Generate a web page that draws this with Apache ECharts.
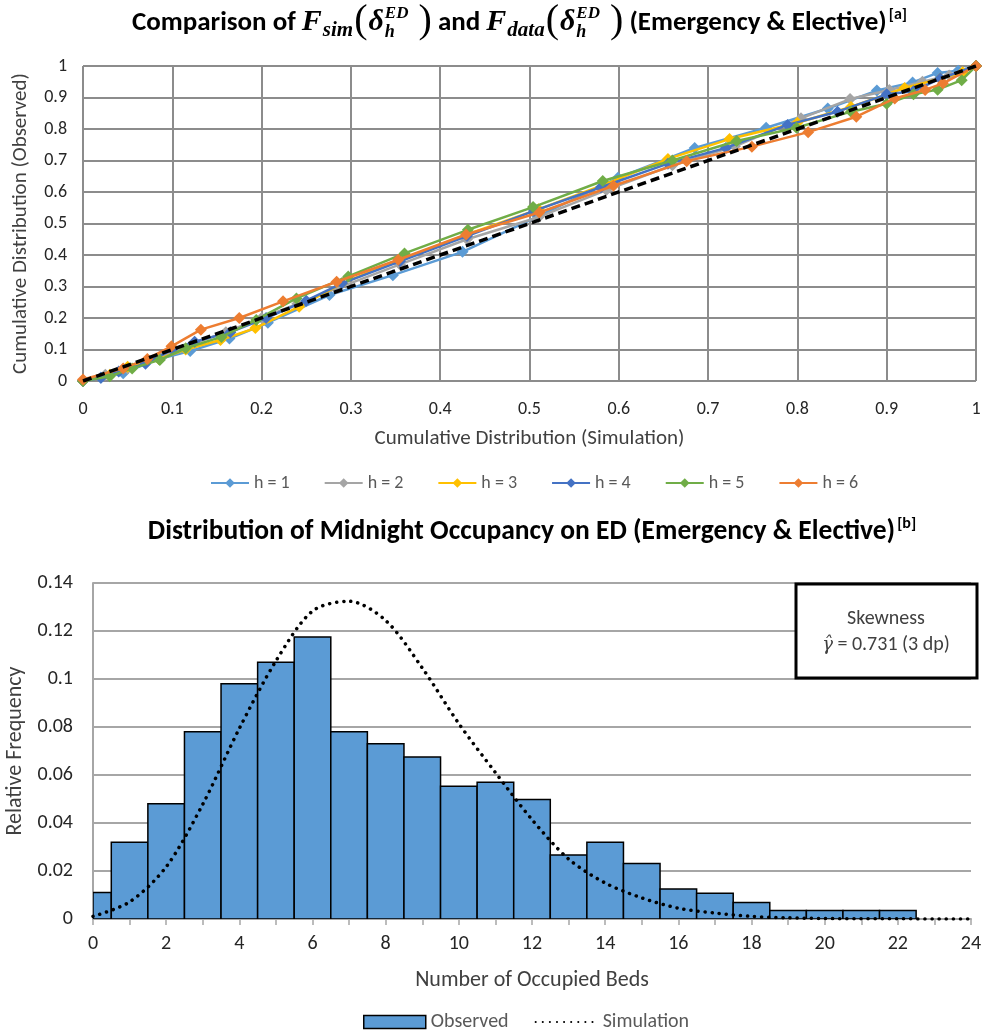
<!DOCTYPE html>
<html>
<head>
<meta charset="utf-8">
<script src="https://cdn.jsdelivr.net/npm/echarts@6/dist/echarts.min.js"></script>
<style>
  html, body { margin: 0; padding: 0; background: #fff; }
  #chart { width: 982px; height: 1030px; }
</style>
</head>
<body>
<div id="chart"></div>
<script>
// ---- Cumulative distribution comparison: [simulated, observed] per hour h ----
const h1 = [[0,0],[0.02,0.01],[0.045,0.025],[0.085,0.07],[0.12,0.095],[0.164,0.135],[0.207,0.185],[0.276,0.273],[0.347,0.336],[0.425,0.41],[0.509,0.522],[0.599,0.645],[0.685,0.74],[0.765,0.804],[0.834,0.865],[0.889,0.922],[0.929,0.948],[0.957,0.978],[0.98,0.985],[1,1]];
const h2 = [[0,0],[0.025,0.02],[0.05,0.04],[0.09,0.08],[0.125,0.12],[0.16,0.155],[0.2,0.2],[0.24,0.245],[0.285,0.295],[0.355,0.37],[0.43,0.45],[0.51,0.52],[0.586,0.606],[0.66,0.685],[0.73,0.745],[0.804,0.834],[0.859,0.895],[0.903,0.924],[0.94,0.95],[0.97,0.97],[1,1]];
const h3 = [[0,0],[0.03,0.02],[0.05,0.045],[0.085,0.07],[0.115,0.1],[0.154,0.13],[0.193,0.168],[0.242,0.236],[0.29,0.31],[0.355,0.385],[0.43,0.465],[0.51,0.545],[0.585,0.625],[0.655,0.705],[0.724,0.768],[0.8,0.82],[0.86,0.87],[0.92,0.93],[0.96,0.96],[0.985,0.98],[1,1]];
const h4 = [[0,0],[0.02,0.01],[0.04,0.03],[0.07,0.055],[0.1,0.1],[0.125,0.125],[0.165,0.155],[0.205,0.2],[0.25,0.255],[0.29,0.31],[0.355,0.38],[0.43,0.46],[0.505,0.54],[0.58,0.615],[0.655,0.69],[0.72,0.74],[0.789,0.813],[0.845,0.855],[0.9,0.91],[0.93,0.92],[0.96,0.96],[1,1]];
const h5 = [[0,0],[0.03,0.015],[0.055,0.04],[0.086,0.067],[0.115,0.104],[0.155,0.14],[0.194,0.194],[0.239,0.262],[0.297,0.332],[0.36,0.405],[0.431,0.48],[0.504,0.552],[0.582,0.635],[0.66,0.7],[0.732,0.762],[0.799,0.804],[0.86,0.855],[0.9,0.88],[0.93,0.91],[0.957,0.925],[0.984,0.955],[1,1]];
const h6 = [[0,0.005],[0.045,0.04],[0.072,0.07],[0.099,0.11],[0.132,0.163],[0.175,0.2],[0.224,0.253],[0.284,0.315],[0.353,0.385],[0.429,0.465],[0.511,0.535],[0.594,0.62],[0.676,0.698],[0.749,0.744],[0.812,0.79],[0.866,0.839],[0.909,0.897],[0.943,0.924],[0.963,0.945],[1,1]];
const hourNames = ['h = 1','h = 2','h = 3','h = 4','h = 5','h = 6'];
const hourColors = ['#5B9BD5','#A5A5A5','#FFC000','#4472C4','#70AD47','#ED7D31'];
const equalityLine = [[0,0],[1,1]];

// ---- Midnight occupancy distribution ----
const beds = [0,1,2,3,4,5,6,7,8,9,10,11,12,13,14,15,16,17,18,19,20,21,22];
const observedFreq = [0.011,0.032,0.048,0.078,0.098,0.107,0.1175,0.078,0.073,0.0675,0.0553,0.057,0.0498,0.0267,0.032,0.0231,0.0125,0.0107,0.0069,0.0035,0.0035,0.0035,0.0035];
const simBeds = [0,1,2,3,4,5,6,7,8,9,10,11,12,13,14,15,16,17,18,19,20,21,22,23,24];
const simulatedFreq = [0.0011,0.0071,0.0217,0.0478,0.0794,0.1075,0.1283,0.1324,0.1244,0.1046,0.0814,0.061,0.0414,0.025,0.015,0.0088,0.0045,0.0025,0.0011,0.0005,0.0002,0.0001,0.0001,0,0];
const skewnessText = '0.731 (3 dp)';

const SANS = 'Carlito, Lato, "Open Sans", sans-serif';
const SERIF = '"Liberation Serif", "DejaVu Serif", serif';

// measure text so that mixed-font titles can be laid out piece by piece
const measureCtx = document.createElement('canvas').getContext('2d');
function fontStr(p) {
  return (p.style || 'normal') + ' ' + (p.weight || 'normal') + ' ' + p.size + 'px ' + p.family;
}
function buildTitle(pieces, cx, baseY) {
  let x = 0, lastX = 0, lastW = 0;
  const laid = [];
  pieces.forEach(p => {
    const f = fontStr(p);
    measureCtx.font = f;
    const w = measureCtx.measureText(p.t).width;
    let px;
    if (p.stack) {
      px = lastX;
      lastW = Math.max(lastW, w);
      x = lastX + lastW;
    } else {
      px = x + (p.gap || 0);
      lastX = px; lastW = w; x = px + w;
    }
    laid.push({ px, f, p });
  });
  const x0 = cx - x / 2;
  return laid.map(o => ({
    type: 'text',
    x: x0 + o.px,
    y: baseY - 0.3 * o.p.size + (o.p.dy || 0),
    silent: true,
    style: { text: o.p.t, font: o.f, fill: '#000', align: 'left', verticalAlign: 'middle' }
  }));
}

const B = { weight: 'bold', size: 27, family: SANS };
const MI = { weight: 'bold', style: 'italic', size: 30, family: SERIF };
const MS = { weight: 'bold', style: 'italic', size: 21, family: SERIF };
const PAR = { weight: 'normal', size: 40, family: SERIF, dy: 2 };
function deltaGroup() {
  return [
    Object.assign({ t: '(' }, PAR, { gap: 1 }),
    Object.assign({ t: 'δ' }, MI, { gap: 1 }),
    Object.assign({ t: 'ED' }, MS, { size: 17, dy: -12, gap: 1 }),
    Object.assign({ t: 'h' }, MS, { size: 18, dy: 7, stack: true }),
    Object.assign({ t: ')' }, PAR, { gap: 10 })
  ];
}
const topTitle = [].concat(
  [Object.assign({ t: 'Comparison of ' }, B)],
  [Object.assign({ t: 'F' }, MI), Object.assign({ t: 'sim' }, MS, { dy: 6, gap: 1 })],
  deltaGroup(),
  [Object.assign({ t: ' and ' }, B)],
  [Object.assign({ t: 'F' }, MI), Object.assign({ t: 'data' }, MS, { dy: 6, gap: 1 })],
  deltaGroup(),
  [Object.assign({ t: ' (Emergency & Elective)' }, B),
   Object.assign({ t: '[a]' }, B, { size: 16, dy: -11, gap: 2 })]
);
const bottomTitle = [
  Object.assign({ t: 'Distribution of Midnight Occupancy on ED (Emergency & Elective)' }, B, { size: 27.5 }),
  Object.assign({ t: '[b]' }, B, { size: 16, dy: -11, gap: 2 })
];

const chart = echarts.init(document.getElementById('chart'), null, { renderer: 'canvas' });

const gridGray = '#8C8C8C';
const lightGray = '#A6A6A6';
const labelColor = '#262626';
const nameColor = '#404040';

const hourSeries = [h1, h2, h3, h4, h5, h6].map((d, i) => ({
  name: hourNames[i],
  type: 'line',
  xAxisIndex: 0, yAxisIndex: 0,
  data: d,
  symbol: 'diamond',
  symbolSize: 12,
  color: hourColors[i],
  lineStyle: { width: 2.5, color: hourColors[i] },
  itemStyle: { color: hourColors[i] },
  z: 3 + i
}));

const option = {
  animation: false,
  textStyle: { fontFamily: SANS },
  grid: [
    { left: 83, top: 66, width: 893, height: 315, outerBoundsMode: 'none', containLabel: false },
    { left: 93, top: 583, width: 878, height: 336, outerBoundsMode: 'none', containLabel: false }
  ],
  xAxis: [
    {
      gridIndex: 0, type: 'value', min: 0, max: 1, interval: 0.1,
      name: 'Cumulative Distribution (Simulation)', nameLocation: 'middle', nameGap: 47,
      nameTextStyle: { fontSize: 21, color: nameColor, fontFamily: SANS },
      axisLine: { show: false }, axisTick: { show: false },
      axisLabel: { fontSize: 18, color: labelColor, margin: 19, fontFamily: SANS },
      splitLine: { show: true, lineStyle: { color: gridGray, width: 2 } }
    },
    {
      gridIndex: 1, type: 'value', min: 0, max: 24, interval: 2,
      name: 'Number of Occupied Beds', nameLocation: 'middle', nameGap: 50,
      nameTextStyle: { fontSize: 22, color: nameColor, fontFamily: SANS },
      axisLine: { show: true, onZero: false, lineStyle: { color: lightGray, width: 2 } },
      axisTick: { show: true, length: 6, lineStyle: { color: lightGray, width: 1.5 } },
      minorTick: { show: true, splitNumber: 2, length: 6, lineStyle: { color: lightGray, width: 1.5 } },
      axisLabel: { fontSize: 20, color: labelColor, margin: 15, fontFamily: SANS },
      splitLine: { show: false }
    }
  ],
  yAxis: [
    {
      gridIndex: 0, type: 'value', min: 0, max: 1, interval: 0.1,
      name: 'Cumulative Distribution (Observed)', nameLocation: 'middle', nameGap: 52,
      nameTextStyle: { fontSize: 21, color: nameColor, fontFamily: SANS },
      axisLine: { show: false }, axisTick: { show: false },
      axisLabel: { fontSize: 18, color: labelColor, margin: 16, fontFamily: SANS },
      splitLine: { show: true, lineStyle: { color: gridGray, width: 2 } }
    },
    {
      gridIndex: 1, type: 'value', min: 0, max: 0.14, interval: 0.02,
      name: 'Relative Frequency', nameLocation: 'middle', nameGap: 61,
      nameTextStyle: { fontSize: 22, color: nameColor, fontFamily: SANS },
      axisLine: { show: true, lineStyle: { color: lightGray, width: 2 } },
      axisTick: { show: false },
      axisLabel: { fontSize: 20, color: labelColor, margin: 20, fontFamily: SANS },
      splitLine: { show: true, lineStyle: { color: lightGray, width: 2 } }
    }
  ],
  legend: [
    {
      data: hourNames,
      left: 205, top: 469,
      itemWidth: 38, itemHeight: 12, itemGap: 34,
      textStyle: { fontSize: 18, color: '#595959', fontFamily: SANS },
      selectedMode: false
    },
    {
      data: [
        { name: 'Observed', icon: 'rect', itemStyle: { color: '#5B9BD5', borderColor: '#000', borderWidth: 1.5 } },
        { name: 'Simulation', itemStyle: { color: 'rgba(0,0,0,0)', borderWidth: 0 } }
      ],
      left: 358, top: 1007,
      itemWidth: 62, itemHeight: 13, itemGap: 26,
      textStyle: { fontSize: 20, color: '#595959', fontFamily: SANS },
      selectedMode: false
    }
  ],
  series: hourSeries.concat([
    {
      name: 'y = x',
      type: 'line',
      xAxisIndex: 0, yAxisIndex: 0,
      data: equalityLine,
      symbol: 'none',
      lineStyle: { color: '#000', width: 3.5, type: [9, 5] },
      z: 20
    },
    {
      name: 'Observed',
      type: 'custom',
      xAxisIndex: 1, yAxisIndex: 1,
      data: beds.map((b, i) => [b, observedFreq[i]]),
      itemStyle: { color: '#5B9BD5', borderColor: '#000', borderWidth: 1.5 },
      clip: true,
      renderItem: function (params, api) {
        const x = api.value(0), y = api.value(1);
        const p0 = api.coord([x - 0.5, y]);
        const p1 = api.coord([x + 0.5, 0]);
        const cs = params.coordSys;
        const rect = echarts.graphic.clipRectByRect(
          { x: p0[0], y: p0[1], width: p1[0] - p0[0], height: p1[1] - p0[1] },
          { x: cs.x, y: cs.y, width: cs.width, height: cs.height }
        );
        return rect && {
          type: 'rect', shape: rect,
          style: { fill: '#5B9BD5', stroke: '#000', lineWidth: 1.5 }
        };
      },
      z: 2
    },
    {
      name: 'Simulation',
      type: 'line',
      xAxisIndex: 1, yAxisIndex: 1,
      data: simBeds.map((b, i) => [b, simulatedFreq[i]]),
      smooth: 0.3,
      symbol: 'none',
      color: '#000',
      lineStyle: { color: '#000', width: 3.5, type: [0.1, 7], cap: 'round' },
      z: 5
    }
  ]),
  graphic: [].concat(
    buildTitle(topTitle, 519.5, 31),
    buildTitle(bottomTitle, 532, 540),
    [
      {
        type: 'rect', shape: { x: 796, y: 584, width: 181, height: 94 },
        style: { fill: '#fff', stroke: '#000', lineWidth: 3 }, z: 50
      },
      {
        type: 'text', x: 886, y: 619, z: 51,
        style: { text: 'Skewness', fontSize: 20, fontFamily: SANS, fill: '#404040', align: 'center', verticalAlign: 'middle' }
      },
      {
        type: 'text', x: 886, y: 645, z: 51,
        style: {
          text: '{g|γ̂} = ' + skewnessText,
          fontSize: 20, fontFamily: SANS, fill: '#404040', align: 'center', verticalAlign: 'middle',
          rich: { g: { fontFamily: '"DejaVu Serif", serif', fontStyle: 'italic', fontSize: 18, fill: '#404040', color: '#404040' } }
        }
      }
    ]
  )
};

chart.setOption(option);
</script>
</body>
</html>
